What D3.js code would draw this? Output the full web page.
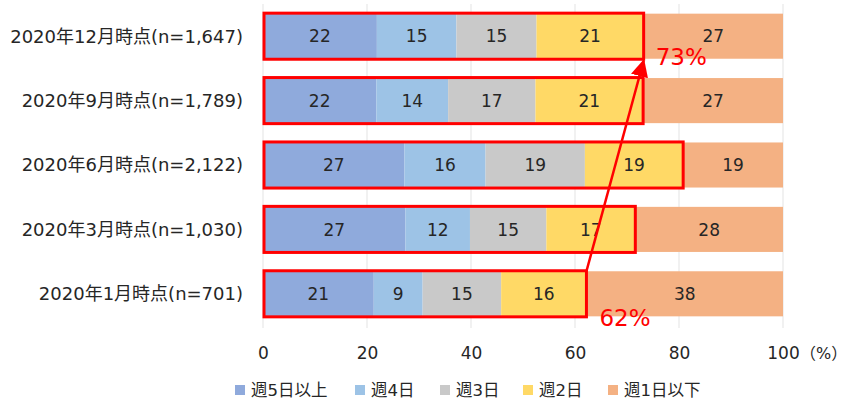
<!DOCTYPE html>
<html>
<head>
<meta charset="utf-8">
<script src="https://cdn.jsdelivr.net/npm/d3@7"></script>
<style>
  body { margin: 0; background: #fff; }
  text { font-family: "DejaVu Sans", "Noto Sans CJK JP", sans-serif; }
</style>
</head>
<body>
<svg id="chart" width="851" height="400"></svg>
<script>
// survey rounds, top to bottom
const periods = ["2020年12月時点(n=1,647)", "2020年9月時点(n=1,789)", "2020年6月時点(n=2,122)", "2020年3月時点(n=1,030)", "2020年1月時点(n=701)"];
const categories = ["週5日以上", "週4日", "週3日", "週2日", "週1日以下"];
const colors = ["#8faadc", "#9dc3e6", "#c9c9c9", "#ffd966", "#f4b183"];

// shares (%) per period
const days5 = [21.9, 21.8, 27.2, 27.4, 21.3];
const days4 = [15.3, 13.8, 15.6, 12.4, 9.4];
const days3 = [15.4, 16.8, 19.1, 14.7, 15.1];
const days2 = [20.6, 20.7, 18.9, 17.1, 16.4];
const days1 = [26.8, 26.9, 19.2, 28.4, 37.8];
const xTicks = [0, 20, 40, 60, 80, 100];

// callout values
const firstLabel = "62%";
const lastLabel = "73%";

const svg = d3.select("#chart");
const margin = { top: 4, left: 263, right: 68, bottom: 74 };
const width = 851, height = 400;

const x = d3.scaleLinear().domain([0, 100]).range([margin.left, width - margin.right]);
const y = d3.scaleBand().domain(periods).range([margin.top, height - margin.bottom]).paddingInner(0.3).paddingOuter(0.15);

const rows = periods.map((p, i) => ({ period: p, days5: days5[i], days4: days4[i], days3: days3[i], days2: days2[i], days1: days1[i] }));
const keys = ["days5", "days4", "days3", "days2", "days1"];
const stacked = d3.stack().keys(keys)(rows);

// gridlines
svg.append("g")
  .selectAll("line")
  .data(xTicks)
  .join("line")
  .attr("x1", d => x(d)).attr("x2", d => x(d))
  .attr("y1", 4).attr("y2", height - margin.bottom + 2)
  .attr("stroke", "#e3e3e3").attr("stroke-width", 1);

// bars
const layer = svg.append("g")
  .selectAll("g")
  .data(stacked)
  .join("g")
  .attr("fill", (d, i) => colors[i]);

layer.selectAll("rect")
  .data(d => d)
  .join("rect")
  .attr("x", d => x(d[0]))
  .attr("y", d => y(d.data.period))
  .attr("width", d => x(d[1]) - x(d[0]))
  .attr("height", y.bandwidth());

layer.selectAll("text")
  .data(d => d)
  .join("text")
  .attr("x", d => (x(d[0]) + x(d[1])) / 2)
  .attr("y", d => y(d.data.period) + y.bandwidth() / 2)
  .attr("dy", "0.36em")
  .attr("text-anchor", "middle")
  .attr("font-size", 17)
  .attr("fill", "#262626")
  .text(d => Math.round(d[1] - d[0]));

// red outline around weekly 2+ days
const topFour = stacked[3];
svg.append("g")
  .selectAll("rect")
  .data(topFour)
  .join("rect")
  .attr("x", x(0) + 1)
  .attr("y", d => y(d.data.period) - 0.5)
  .attr("width", d => x(d[1]) - x(0) - 1)
  .attr("height", y.bandwidth() + 1)
  .attr("fill", "none")
  .attr("stroke", "#ff0000")
  .attr("stroke-width", 3);

// arrow from Jan to Dec
const first = topFour[topFour.length - 1];
const last = topFour[0];
svg.append("defs").append("marker")
  .attr("id", "head")
  .attr("viewBox", "0 0 10 10")
  .attr("refX", 9).attr("refY", 5)
  .attr("markerWidth", 7).attr("markerHeight", 7)
  .attr("orient", "auto")
  .append("path")
  .attr("d", "M0,0 L10,5 L0,10 Z")
  .attr("fill", "#ff0000");

svg.append("line")
  .attr("x1", x(first[1]))
  .attr("y1", y(first.data.period))
  .attr("x2", x(last[1]))
  .attr("y2", y(last.data.period) + y.bandwidth() + 2)
  .attr("stroke", "#ff0000")
  .attr("stroke-width", 2.5)
  .attr("marker-end", "url(#head)");

svg.append("text")
  .attr("x", x(last[1]) + 12)
  .attr("y", y(last.data.period) + y.bandwidth() + 6)
  .attr("font-size", 23)
  .attr("fill", "#ff0000")
  .text(lastLabel);

svg.append("text")
  .attr("x", x(first[1]) + 13)
  .attr("y", y(first.data.period) + y.bandwidth() + 10)
  .attr("font-size", 23)
  .attr("fill", "#ff0000")
  .text(firstLabel);

// category labels
svg.append("g")
  .selectAll("text")
  .data(periods)
  .join("text")
  .attr("x", margin.left - 20)
  .attr("y", d => y(d) + y.bandwidth() / 2)
  .attr("dy", "0.36em")
  .attr("text-anchor", "end")
  .attr("font-size", 18)
  .attr("fill", "#262626")
  .text(d => d);

// x axis
const xAxis = svg.append("g")
  .attr("transform", `translate(0,${height - margin.bottom})`)
  .call(d3.axisBottom(x).tickValues(xTicks).tickSize(0).tickPadding(21));
xAxis.select(".domain").remove();
xAxis.selectAll("text")
  .attr("font-size", 17)
  .attr("fill", "#262626")
  .style("font-family", "'DejaVu Sans', 'Noto Sans CJK JP', sans-serif");

svg.append("text")
  .attr("x", x(100) + 17)
  .attr("y", 359)
  .attr("font-size", 16)
  .attr("fill", "#262626")
  .text("（%）");

// legend
const legendX = [235, 355, 440, 523, 608];
const legend = svg.append("g")
  .selectAll("g")
  .data(categories)
  .join("g")
  .attr("transform", (d, i) => `translate(${legendX[i]},383)`);

legend.append("rect")
  .attr("width", 10).attr("height", 10)
  .attr("y", 2)
  .attr("fill", (d, i) => colors[i]);

legend.append("text")
  .attr("x", 16)
  .attr("y", 7)
  .attr("dy", "0.36em")
  .attr("font-size", 16.5)
  .attr("fill", "#262626")
  .text(d => d);
</script>
</body>
</html>
